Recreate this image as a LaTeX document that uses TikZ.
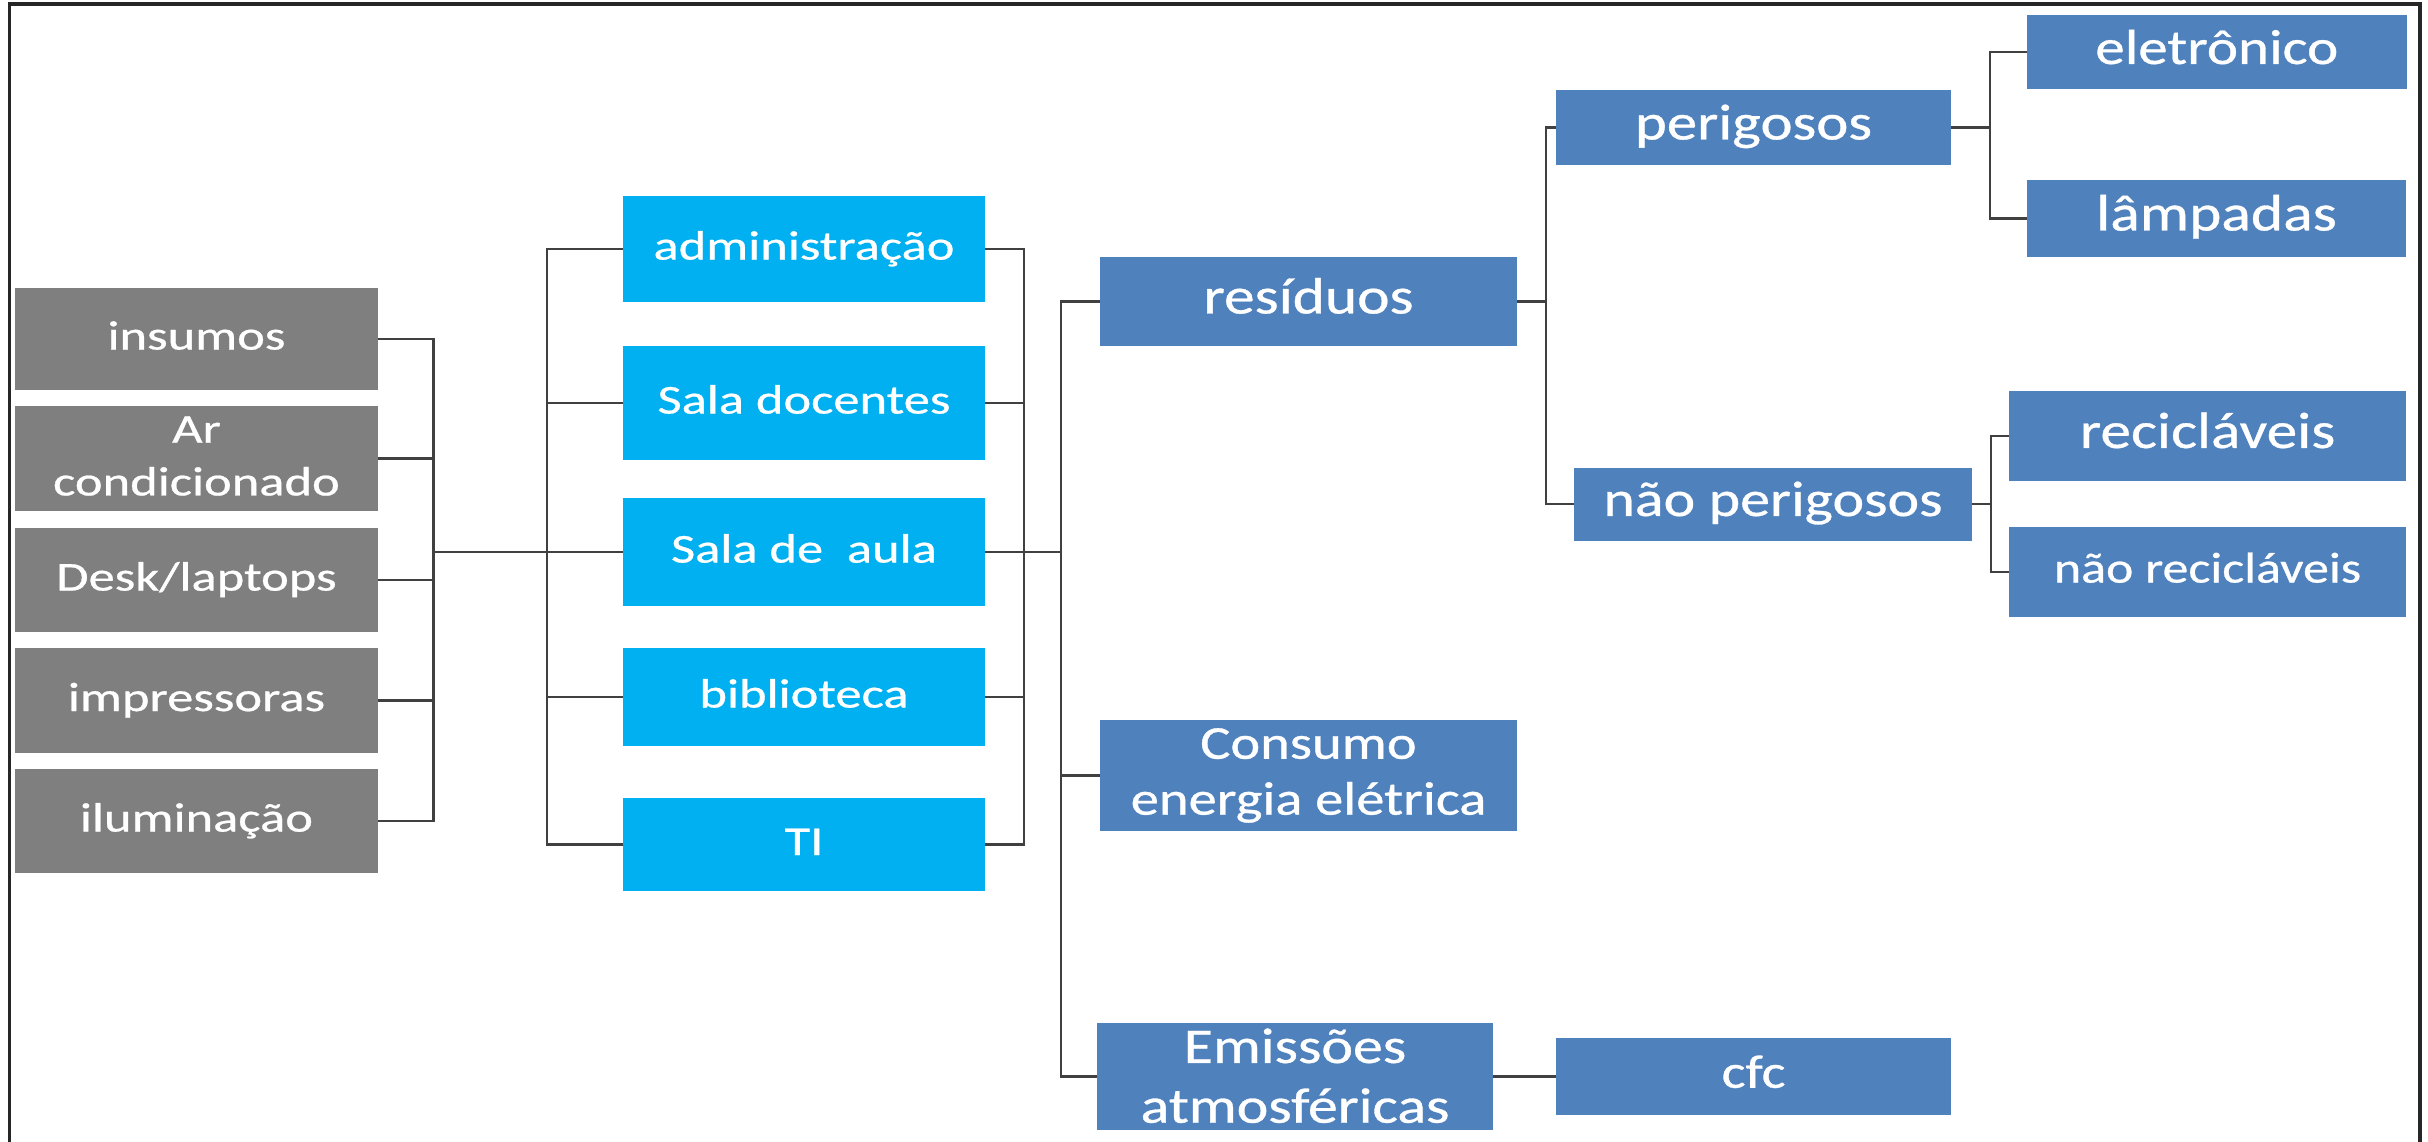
\documentclass[tikz,border=0pt]{standalone}
\usepackage{fontspec}
\setmainfont{Carlito}[FakeBold=0.6]
\usepackage{graphicx}
\definecolor{grayc}{HTML}{7F7F7F}
\definecolor{lblue}{HTML}{00B0F0}
\definecolor{dblue}{HTML}{4F81BD}
\definecolor{linec}{HTML}{404040}
\newcommand\tx[2][1.28]{\scalebox{#1}[1]{\begin{tabular}{@{}c@{}}#2\end{tabular}}}
\newcommand\txd[1]{\raisebox{-0.06cm}{\tx[1.2]{#1}}}
\begin{document}
\begin{tikzpicture}[x=0.01cm,y=-0.01cm,
  basebox/.style={inner sep=0pt, outer sep=0pt, text=white},
  gbox/.style={basebox, fill=grayc, minimum width=3.62cm, font=\fontsize{11.67pt}{15pt}\selectfont},
  lbox/.style={basebox, fill=lblue, minimum width=3.62cm, font=\fontsize{11.67pt}{15pt}\selectfont},
  dbox/.style={basebox, fill=dblue},
  conn/.style={draw=linec, line width=0.75pt}]
\useasboundingbox (0,0) rectangle (2428,1141);
\clip (0,0) rectangle (2428,1141);
\fill[white] (0,0) rectangle (2428,1141);

% gray column
\node[gbox, minimum height=1.02cm] (ins) at (196.5,339) {\tx{insumos}};
\node[gbox, minimum height=1.05cm] (ar) at (196.5,458.5) {\tx{Ar\\condicionado}};
\node[gbox, minimum height=1.04cm] (desk) at (196.5,580) {\tx{Desk/laptops}};
\node[gbox, minimum height=1.05cm] (imp) at (196.5,700.5) {\tx{impressoras}};
\node[gbox, minimum height=1.04cm] (ilu) at (196.5,821) {\tx{iluminação}};

% light blue column
\node[lbox, minimum height=1.05cm] (adm) at (804,249) {\tx{administração}};
\node[lbox, minimum height=1.13cm] (sdoc) at (804,403) {\tx{Sala docentes}};
\node[lbox, minimum height=1.08cm] (saula) at (804,552) {\tx{Sala de\ \ aula}};
\node[lbox, minimum height=0.98cm] (bib) at (804,697) {\tx{biblioteca}};
\node[lbox, minimum height=0.93cm] (ti) at (804,844.5) {\tx{TI}};

% dark blue
\node[dbox, minimum width=4.17cm, minimum height=0.88cm, font=\fontsize{14.55pt}{17pt}\selectfont] (res) at (1308.5,301.5) {\txd{resíduos}};
\node[dbox, minimum width=4.17cm, minimum height=1.05cm, font=\fontsize{13.4pt}{15.9pt}\selectfont] (cons) at (1308.5,775.5) {\txd{Consumo\\energia elétrica}};
\node[dbox, minimum width=3.96cm, minimum height=1.07cm, text height=0.3cm, text depth=0.3cm, font=\fontsize{14.2pt}{17pt}\selectfont] (emi) at (1295,1076.5) {\raisebox{-0.17cm}{\tx[1.2]{Emissões\\atmosféricas}}};
\node[dbox, minimum width=3.95cm, minimum height=0.77cm, font=\fontsize{13.4pt}{16pt}\selectfont] (cfc) at (1753.5,1076.5) {\txd{cfc}};
\node[dbox, minimum width=3.95cm, minimum height=0.75cm, font=\fontsize{14.4pt}{17pt}\selectfont] (per) at (1753.5,127.5) {\txd{perigosos}};
\node[dbox, minimum width=3.98cm, minimum height=0.73cm, font=\fontsize{14.2pt}{17pt}\selectfont] (np) at (1773,504) {\txd{não perigosos}};
\node[dbox, minimum width=3.80cm, minimum height=0.74cm, font=\fontsize{14.0pt}{17pt}\selectfont] (ele) at (2216.75,52) {\txd{eletrônico}};
\node[dbox, minimum width=3.79cm, minimum height=0.76cm, font=\fontsize{14.6pt}{17pt}\selectfont] (lam) at (2216.5,218.5) {\txd{lâmpadas}};
\node[dbox, minimum width=3.97cm, minimum height=0.90cm, font=\fontsize{14.55pt}{17pt}\selectfont] (rec) at (2207.5,436) {\txd{recicláveis}};
\node[dbox, minimum width=3.97cm, minimum height=0.90cm, font=\fontsize{12.3pt}{15pt}\selectfont] (nrec) at (2207.5,572) {\txd{não recicláveis}};

% junction points
\coordinate (j1) at (433.5,552);
\coordinate (j2) at (547,552);
\coordinate (j3) at (1024,552);
\coordinate (j4) at (1061,552);
\coordinate (j5) at (1546,301.5);
\coordinate (j6) at (1990,127.5);
\coordinate (j7) at (1991,504);

% connectors
\foreach \n in {ins,ar,desk,imp,ilu} \draw[conn] (\n.east) -| (j1);
\draw[conn] (j1) -- (j2);
\foreach \n in {adm,sdoc,saula,bib,ti} \draw[conn] (j2) |- (\n.west);
\foreach \n in {adm,sdoc,saula,bib,ti} \draw[conn] (\n.east) -| (j3);
\draw[conn] (j3) -- (j4);
\foreach \n in {res,cons,emi} \draw[conn] (j4) |- (\n.west);
\draw[conn] (res.east) -- (j5);
\foreach \n in {per,np} \draw[conn] (j5) |- (\n.west);
\draw[conn] (per.east) -- (j6);
\foreach \n in {ele,lam} \draw[conn] (j6) |- (\n.west);
\draw[conn] (np.east) -- (j7);
\foreach \n in {rec,nrec} \draw[conn] (j7) |- (\n.west);
\draw[conn] (emi.east |- cfc.west) -- (cfc.west);

% frame
\draw[line width=0.9pt, draw=black!85] (9.5,1160) -- (9.5,4) -- (2420,4) -- (2420,1160);
\end{tikzpicture}
\end{document}
